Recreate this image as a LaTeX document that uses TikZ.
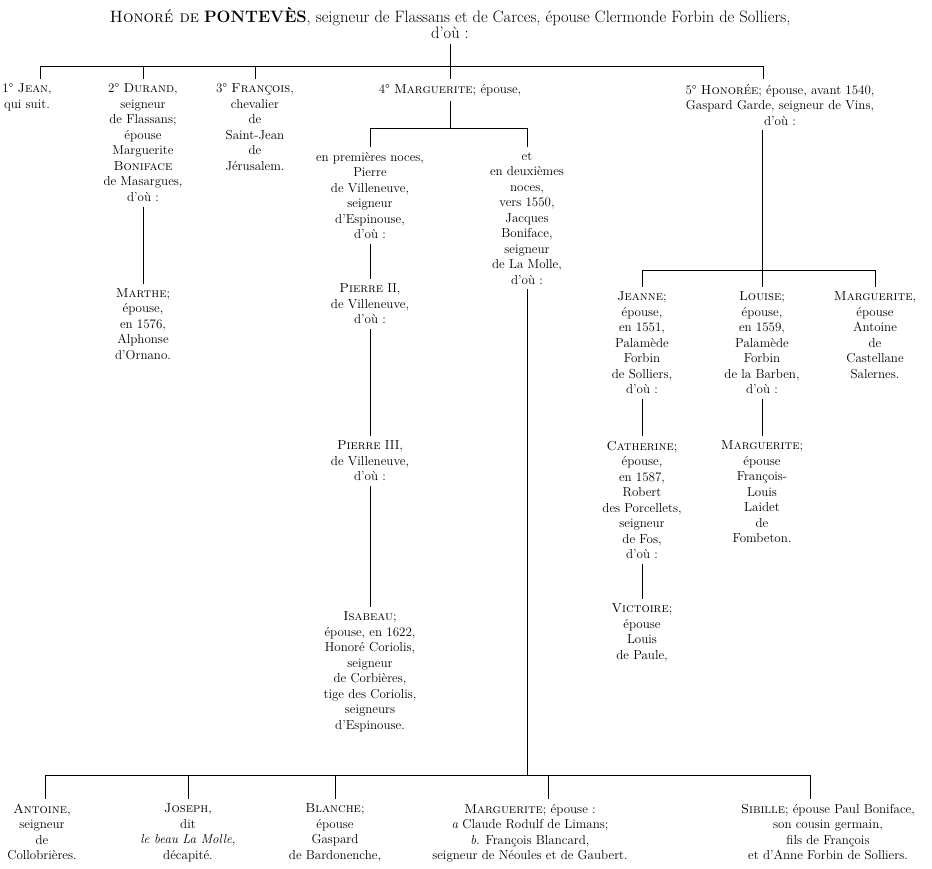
\documentclass[tikz,border=0pt]{standalone}
\usepackage{fontspec}
\usetikzlibrary{positioning}
\begin{document}
\begin{tikzpicture}[
  x=1pt, y=-1pt,
  person/.style={align=center, inner sep=2pt, outer sep=3pt,
    font=\fontsize{13}{15.5}\selectfont},
  head/.style={person, font=\fontsize{16.5}{16}\selectfont},
  link/.style={line width=0.9pt},
  faint/.style={line width=0.5pt}
]
\useasboundingbox (0,0) rectangle (932,868);

% head of the family
\node[head, anchor=north] (honore) at (450,3) {\textsc{Honoré de} \textbf{PONTEVÈS}, seigneur de Flassans et de Carces, épouse Clermonde Forbin de Solliers,\\d'où :};

% his children
\node[person, anchor=north] (jean) at (27,79) {1° \textsc{Jean},\\qui suit.};
\node[person, anchor=north] (durand) at (143,79) {2° \textsc{Durand},\\seigneur\\de Flassans;\\épouse\\Marguerite\\\textsc{Boniface}\\de Masargues,\\d'où :};
\node[person, anchor=north] (francois) at (255,79) {3° \textsc{François},\\chevalier\\de\\Saint-Jean\\de\\Jérusalem.};
\node[person, anchor=north] (marguerite) at (450,79) {4° \textsc{Marguerite}; épouse,};
\node[person, anchor=north] (honoree) at (780,79) {5° \textsc{Honorée}; épouse, avant 1540,\\Gaspard Garde, seigneur de Vins,\\d'où :};

\coordinate (barw) at (40,66);
\coordinate (bare) at (763,66);
\draw[link] (honore) -- (honore |- barw);
\draw[link] (barw |- jean.north) -- (barw) -- (bare) -- (bare |- honoree.north);
\foreach \n in {durand, francois, marguerite}
  \draw[link] (\n.north |- barw) -- (\n.north);

% Durand's daughter
\node[person, below=77pt of durand] (marthe) {\textsc{Marthe};\\épouse,\\en 1576,\\Alphonse\\d'Ornano.};
\draw[link] (durand) -- (marthe);

% Marguerite's two marriages
\node[person, anchor=north] (pierre) at (370,147) {en premières noces,\\Pierre\\de Villeneuve,\\seigneur\\d'Espinouse,\\d'où :};
\node[person, anchor=north] (lamolle) at (527,147) {et\\en deuxièmes\\noces,\\vers 1550,\\Jacques\\Boniface,\\seigneur\\de La Molle,\\d'où :};
\coordinate (mbar) at (0,128);
\draw[link] (marguerite) -- (marguerite |- mbar);
\draw[link] (pierre.north) -- (pierre.north |- mbar) -- (lamolle.north |- mbar) -- (lamolle.north);

\node[person, below=35pt of pierre] (pierreii) {\textsc{Pierre} II,\\de Villeneuve,\\d'où :};
\node[person, below=107pt of pierreii] (pierreiii) {\textsc{Pierre} III,\\de Villeneuve,\\d'où :};
\node[person, below=121pt of pierreiii] (isabeau) {\textsc{Isabeau};\\épouse, en 1622,\\Honoré Coriolis,\\seigneur\\de Corbières,\\tige des Coriolis,\\seigneurs\\d'Espinouse.};
\draw[faint] (pierre) -- (pierreii);
\draw[link] (pierreii) -- (pierreiii);
\draw[link] (pierreiii) -- (isabeau);

% Honorée's daughters
\node[person, anchor=north] (jeanne) at (642,287) {\textsc{Jeanne};\\épouse,\\en 1551,\\Palamède\\Forbin\\de Solliers,\\d'où :};
\node[person, anchor=north] (louise) at (762,287) {\textsc{Louise};\\épouse,\\en 1559,\\Palamède\\Forbin\\de la Barben,\\d'où :};
\node[person, anchor=north] (margcast) at (875,287) {\textsc{Marguerite},\\épouse\\Antoine\\de\\Castellane\\Salernes.};
\coordinate (hbar) at (0,270);
\draw[link] (louise |- honoree.south) -- (louise |- hbar);
\draw[link] (jeanne.north) -- (jeanne.north |- hbar) -- (margcast.north |- hbar) -- (margcast.north);
\draw[link] (louise.north |- hbar) -- (louise.north);

\node[person, below=37pt of jeanne] (catherine) {\textsc{Catherine};\\épouse,\\en 1587,\\Robert\\des Porcellets,\\seigneur\\de Fos,\\d'où :};
\node[person, below=37pt of louise] (marglaidet) {\textsc{Marguerite};\\épouse\\François-\\Louis\\Laidet\\de\\Fombeton.};
\node[person, below=35pt of catherine] (victoire) {\textsc{Victoire};\\épouse\\Louis\\de Paule,};
\draw[link] (jeanne) -- (catherine);
\draw[link] (louise) -- (marglaidet);
\draw[link] (catherine) -- (victoire);

% children of the second marriage
\coordinate (lbarw) at (45,775);
\coordinate (lbare) at (810,775);
\coordinate (ltick) at (548,775);
\node[person, anchor=north] (antoine) at (42,799) {\textsc{Antoine},\\seigneur\\de\\Collobrières.};
\node[person, anchor=north] (joseph) at (188,799) {\textsc{Joseph},\\dit\\\textit{le beau La Molle},\\décapité.};
\node[person, anchor=north] (blanche) at (335,799) {\textsc{Blanche};\\épouse\\Gaspard\\de Bardonenche,};
\node[person, anchor=north] (margneoules) at (530,799) {\textsc{Marguerite}; épouse :\\\textit{a} Claude Rodulf de Limans;\\\textit{b}. François Blancard,\\seigneur de Néoules et de Gaubert.};
\node[person, anchor=north] (sibille) at (828,799) {\textsc{Sibille}; épouse Paul Boniface,\\son cousin germain,\\fils de François\\et d'Anne Forbin de Solliers.};
\draw[link] (lamolle) -- (lamolle |- lbarw);
\draw[link] (lbarw |- antoine.north) -- (lbarw) -- (lbare) -- (lbare |- sibille.north);
\draw[link] (joseph.north |- lbarw) -- (joseph.north);
\draw[link] (blanche.north |- lbarw) -- (blanche.north);
\draw[link] (ltick) -- (ltick |- margneoules.north);
\end{tikzpicture}
\end{document}
